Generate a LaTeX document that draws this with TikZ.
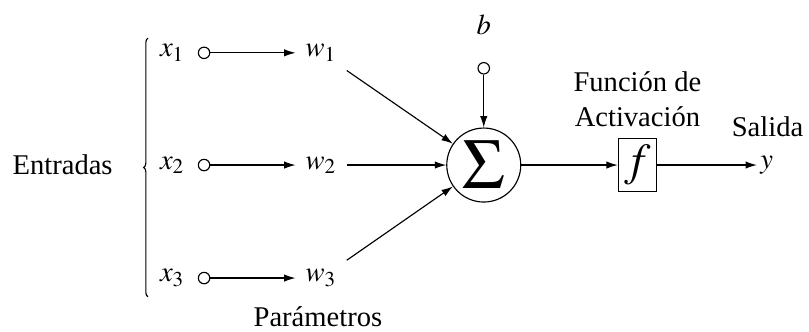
\documentclass[tikz,border=0pt]{standalone}
\usepackage{mathptmx}
\usepackage[no-math]{fontspec}
\setmainfont{Liberation Serif}
\usepackage{tikz}
\usetikzlibrary{positioning,arrows.meta,decorations.pathreplacing}

\tikzset{
  inpt/.style={circle, draw, inner sep=0pt, minimum size=4pt},
  sumnode/.style={circle, draw, inner sep=0pt, minimum size=0.91cm},
  actbox/.style={draw, inner sep=0pt, minimum width=0.47cm, minimum height=0.65cm},
  arr/.style={-{Latex[length=4pt,width=2.6pt]}}
}

\begin{document}
\begin{tikzpicture}
  \useasboundingbox (-5.95,-2.05) rectangle (4.0,2.03);

  % neurona
  \node[sumnode] (sum) at (0,0) {\Huge$\Sigma$};

  % entradas y pesos
  \foreach \i/\y in {1/1.38, 2/0, 3/-1.39} {
    \node (x\i) at (-3.83,\y) {$x_{\i}$};
    \node[inpt] (c\i) at (-3.44,\y) {};
    \node (w\i) at (-2.0,\y) {$w_{\i}$};
    \draw[arr] (c\i) -- (w\i);
    \draw[arr] (w\i) -- (sum);
  }

  \coordinate (bb) at (-4.13,-1.62);
  \coordinate (bt) at (-4.13,1.56);
  \draw[decorate, decoration={brace, amplitude=1.5pt}] (bb) -- (bt);
  \node (in) at (-5.18,0) {Entradas};
  \node (par) at (-2.04,-1.87) {Parámetros};

  % sesgo
  \node[inpt] (bias) at (0,1.19) {};
  \node (b) at (0,1.72) {$b$};
  \draw[arr] (bias) -- (sum);

  % activacion y salida
  \node[actbox] (f) at (1.89,0) {\fontsize{16pt}{18pt}\selectfont$f$};
  \node[align=center, above=0.5pt of f] (act) {Función de\\Activación};
  \node[inner sep=1pt] (y) at (3.48,0) {$y$};
  \node (out) at (3.49,0.47) {Salida};
  \draw[arr] (sum) -- (f);
  \draw[arr] (f) -- (y);
\end{tikzpicture}
\end{document}
